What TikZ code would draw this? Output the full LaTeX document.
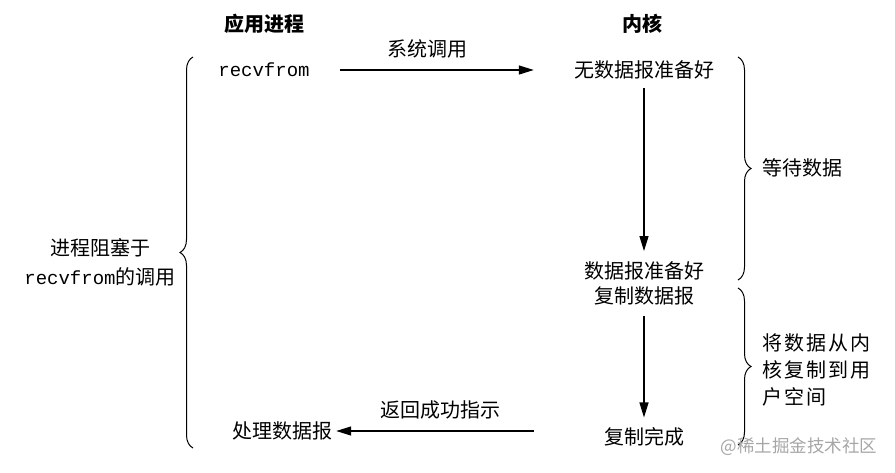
\documentclass[tikz,border=0pt]{standalone}
\usepackage{fontspec}
\setmainfont{Noto Sans CJK SC}
\setmonofont{Liberation Mono}
\usetikzlibrary{arrows.meta, positioning, decorations.pathreplacing}

\begin{document}
\begin{tikzpicture}[
    x=1pt, y=-1pt,
    font=\fontsize{20}{25}\selectfont,
    txt/.style={inner sep=0pt, align=center},
    head/.style={txt, font=\fontsize{20}{25}\selectfont\bfseries},
    code/.style={txt, font=\fontsize{19}{25}\selectfont\ttfamily},
    flow/.style={-{Triangle[length=15pt, width=9pt]}, line width=1.2pt},
    bracket/.style={decorate, decoration={brace, amplitude=13pt}, line width=1pt}
]
    \useasboundingbox (0,0) rectangle (895,472);
    \node[head] (app) at (264,24) {应用进程};
    \node[head] (kern) at (642,24) {内核};
    \node[code] (recv) at (264,70) {recvfrom};
    \node[txt] (nodata) at (644,70) {无数据报准备好};
    \node[txt] (ready) at (644,283) {数据报准备好\\复制数据报};
    \node[txt] (done) at (644,437) {复制完成};
    \node[txt] (proc) at (282,431) {处理数据报};
    \draw[flow] ([xshift=30pt]recv.east) -- node[pos=0.45, above=11pt, txt] (call) {系统调用} ([xshift=-40pt]nodata.west);
    \draw[flow] ([yshift=-9pt]nodata.south) -- ([yshift=10pt]ready.north);
    \draw[flow] ([yshift=-11pt]ready.south) -- ([yshift=10pt]done.north);
    \draw[flow] ([xshift=-70pt]proc.east -| done.west) -- node[pos=0.47, above=11pt, txt] (ret) {返回成功指示} ([xshift=4pt]proc.east);
    \draw[bracket] (193,448) -- (193,57);
    \node[txt] (block) at (100,262) {进程阻塞于\\[4pt]{\fontsize{19}{25}\selectfont\ttfamily recvfrom}的调用};
    \draw[bracket] (738,57) -- (738,280);
    \node[txt, anchor=west] (wait) at (762,168) {等待数据};
    \draw[bracket] (738,288) -- (738,445);
    \node[txt, anchor=west, align=left, font=\fontsize{20}{27}\selectfont\addfontfeature{LetterSpace=10}] (copy) at (762,370) {将数据从内\\核复制到用\\户空间};
    \node[txt, font=\fontsize{17.5}{20}\selectfont, text=black!35] (mark) at (799,447) {@稀土掘金技术社区};
\end{tikzpicture}
\end{document}
